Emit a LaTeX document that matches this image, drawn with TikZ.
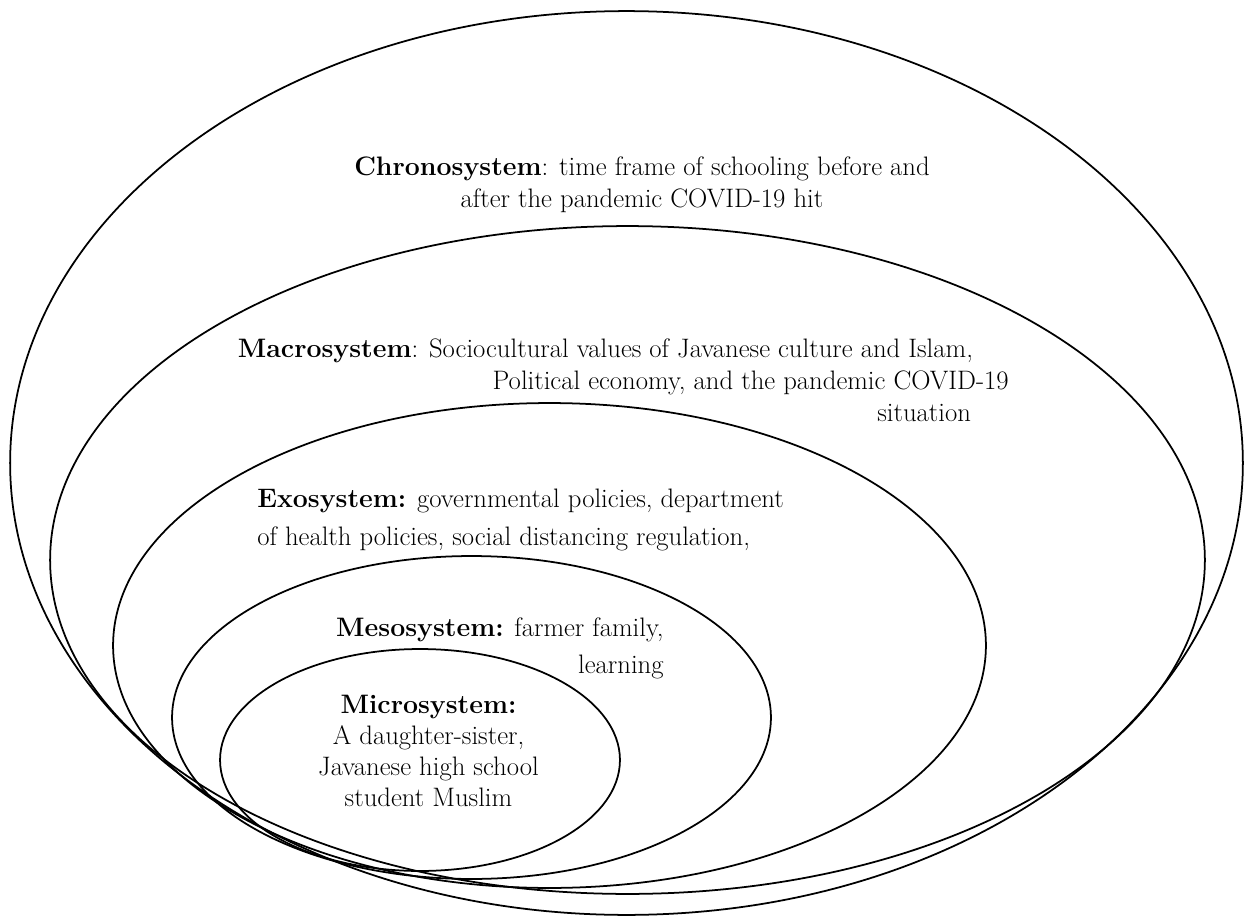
\documentclass[tikz,border=0pt]{standalone}
\usepackage{tikz}

\begin{document}
\begin{tikzpicture}[x=0.02cm, y=-0.02cm]
\tikzstyle{ring} = [draw, line width=1pt]
\tikzstyle{systext} = [inner sep=0pt, font=\fontsize{15.2}{18}\selectfont]
\useasboundingbox (0,0) rectangle (1245,916);
% chrono, macro, exo, meso, micro
\foreach \cx/\cy/\rx/\ry in {626.5/463/12.33/9.04, 627.5/560/11.55/6.68, 549.5/645.5/8.73/4.85, 471.5/717.5/5.99/3.23, 420/760/4.0/2.22} {
    \draw[ring] (\cx,\cy) ellipse (\rx cm and \ry cm);
}
\node[systext, anchor=base] (chrono1) at (642,175.5) {\textbf{Chronosystem}: time frame of schooling before and};
\node[systext, anchor=base] (chrono2) at (642,207.5) {after the pandemic COVID-19 hit};
\node[systext, anchor=base west] (macro1) at (237.5,357.5) {\textbf{Macrosystem}: Sociocultural values of Javanese culture and Islam,};
\node[systext, anchor=base east] (macro2) at (1009,389.6) {Political economy, and the pandemic COVID-19};
\node[systext, anchor=base west] (macro3) at (877,421.8) {situation};
\node[systext, anchor=base west] (exo1) at (257,507.5) {\textbf{Exosystem:} governmental policies, department};
\node[systext, anchor=base west] (exo2) at (257,545) {of health policies, social distancing regulation,};
\node[systext, anchor=base east] (meso1) at (664,636) {\textbf{Mesosystem:} farmer family,};
\node[systext, anchor=base east] (meso2) at (664,673.6) {learning};
\node[systext, anchor=base] (micro0) at (428.5,713) {\textbf{Microsystem:}};
\foreach \txt [count=\i] in {{A daughter-sister,}, {Javanese high school}, {student Muslim}} {
    \node[systext, anchor=base] (micro\i) at (428.5,713+31*\i) {\txt};
}
\end{tikzpicture}
\end{document}
